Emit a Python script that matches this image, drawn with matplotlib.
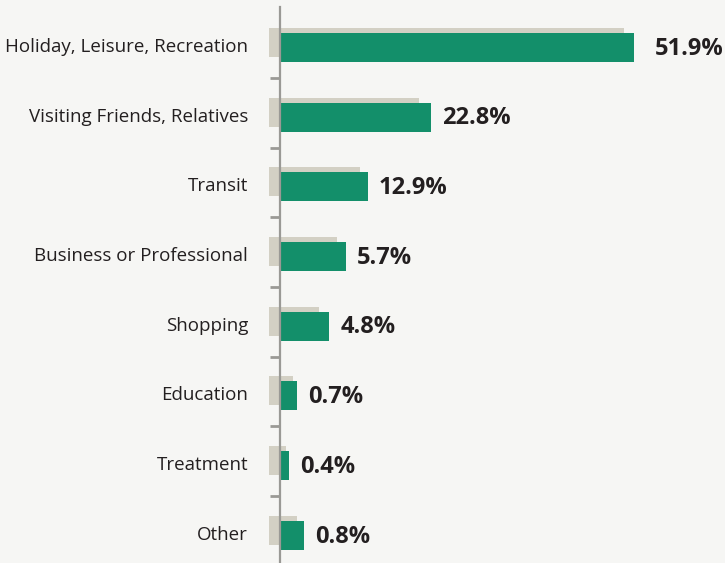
import matplotlib.pyplot as plt
import numpy as np

# categories and shares (labels), bar lengths as drawn, grey back bars
categories = ['Holiday, Leisure, Recreation', 'Visiting Friends, Relatives', 'Transit',
              'Business or Professional', 'Shopping', 'Education', 'Treatment', 'Other']
share_labels = ['51.9%', '22.8%', '12.9%', '5.7%', '4.8%', '0.7%', '0.4%', '0.8%']
bar_len = [51.9, 22.1, 12.9, 9.7, 7.2, 2.5, 1.3, 3.5]
back_len = [50.4, 20.4, 11.7, 8.4, 5.7, 1.9, 0.9, 2.5]
back_start = -1.6

green = '#138f6a'
grey = '#d3d0c4'
bg = '#f6f6f4'
axis_col = '#9a9995'

plt.rcParams['font.family'] = ['Open Sans', 'DejaVu Sans']

fig = plt.figure(figsize=(7.25, 5.63), dpi=100, facecolor=bg)
ax = fig.add_axes([260 / 725, 0, 465 / 725, 1])
ax.set_facecolor(bg)

y = np.arange(len(categories))
h = 0.416
ax.barh(y - 0.072, np.array(back_len) - back_start, left=back_start, height=h,
        color=grey, zorder=1, clip_on=False)
ax.barh(y, bar_len, height=h, color=green, zorder=2)

for i, (yi, v, lab) in enumerate(zip(y, bar_len, share_labels)):
    off = 15 if i == 0 else 8  # first label sits further out in the original
    ax.annotate(lab, (v, yi + 0.02), xytext=(off, 0), textcoords='offset points',
                va='center', ha='left', fontsize=17, fontweight='bold', color='#231f20')

ax.set_xlim(-20 / 6.82, 445 / 6.82)
ax.set_ylim(7.40, -0.68)

for s in ['top', 'right', 'bottom']:
    ax.spines[s].set_visible(False)
ax.spines['left'].set_position(('data', 0))
ax.spines['left'].set_color(axis_col)
ax.spines['left'].set_linewidth(1.6)
ax.spines['left'].set_zorder(3)
ax.spines['left'].set_bounds(-0.58, 7.40)

ax.set_xticks([])
ax.set_yticks(y - 0.035)
ax.set_yticklabels(categories, fontsize=13.5, color='#231f20')
ax.tick_params(axis='y', which='major', length=0, pad=23)
ax.set_yticks(y[:-1] + 0.44, minor=True)
ax.tick_params(axis='y', which='minor', length=7.5, width=2, color=axis_col, direction='out')

fig.savefig('out.png', dpi=100, facecolor=bg)
